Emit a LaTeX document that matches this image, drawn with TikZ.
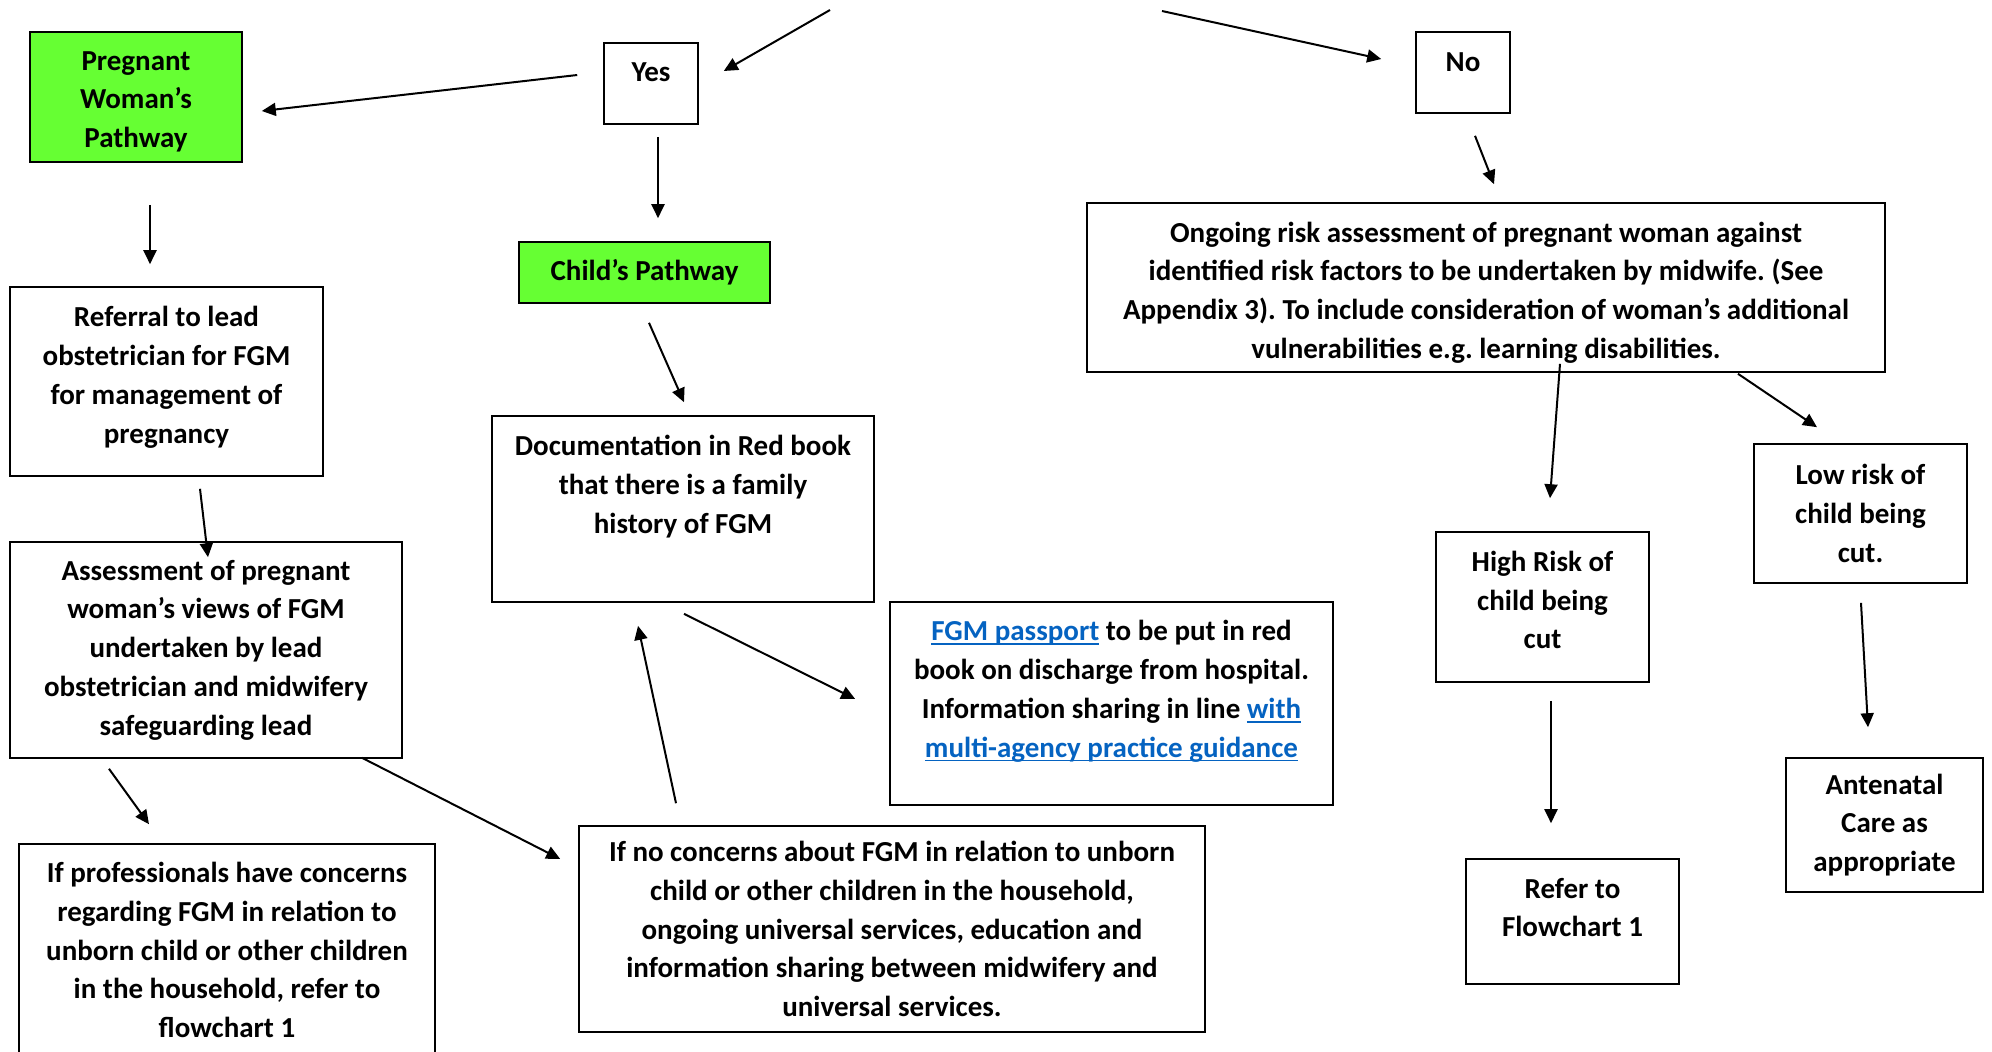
\documentclass[tikz,border=0pt]{standalone}
\usepackage{fontspec}
\setmainfont{Carlito}
\usepackage{tikz}
\usetikzlibrary{shapes,arrows,arrows.meta,calc}
\frenchspacing
\definecolor{pathgreen}{RGB}{102,255,51}
\definecolor{linkblue}{RGB}{5,99,193}
\newcommand{\weblink}[1]{\textcolor{linkblue}{\setbox0\hbox{#1}\rlap{\rule[-2pt]{\wd0}{0.9pt}}\box0}}
\tikzstyle{stepbox} = [draw, line width=0.8pt, align=center, inner sep=0pt, font=\bfseries\fontsize{14.5}{19.4}\selectfont]
\tikzstyle{pathbox} = [stepbox, fill=pathgreen]
\tikzstyle{flow} = [->, >={Triangle[length=7pt,width=6.5pt]}, line width=1pt]

\begin{document}
\begin{tikzpicture}[x=0.5pt, y=-0.5pt]
		\useasboundingbox (0,0) rectangle (1992,1051);

		\node [pathbox, minimum width=106pt, minimum height=65pt] (pregnant) at (136,97) {\rule{0pt}{14.2pt}Pregnant\\Woman’s\\Pathway};
		\node [stepbox, minimum width=47pt, minimum height=40.5pt] (yes) at (651,83.5) {Yes\rule[-11pt]{0pt}{11pt}};
		\node [stepbox, minimum width=47pt, minimum height=40.5pt] (no) at (1463,72.5) {No\rule[-10pt]{0pt}{10pt}};
		\node [pathbox, minimum width=125.5pt, minimum height=30.5pt] (child) at (644.5,272.5) {Child’s Pathway};

		\node [stepbox, minimum width=156.5pt, minimum height=94.5pt] (referral) at (166.5,381.5) {\rule{0pt}{14.1pt}Referral to lead\\obstetrician for FGM\\for management of\\pregnancy\rule[-10.5pt]{0pt}{10.5pt}};
		\node [stepbox, minimum width=196pt, minimum height=108pt] (assess) at (206,650) {Assessment of pregnant\\woman’s views of FGM\\undertaken by lead\\obstetrician and midwifery\\safeguarding lead};
		\node [stepbox, minimum width=208pt, minimum height=106pt] (concerns) at (227,950) {If professionals have concerns\\regarding FGM in relation to\\unborn child or other children\\in the household, refer to\\flowchart 1};

		\node [stepbox, minimum width=191pt, minimum height=93pt] (redbook) at (683,509) {Documentation in Red book\\that there is a family\\history of FGM\rule[-24.5pt]{0pt}{24.5pt}};
		\node [stepbox, minimum width=221.5pt, minimum height=101.5pt] (passport) at (1111.5,703.5) {\weblink{FGM passport} to be put in red\\book on discharge from hospital.\\Information sharing in line \weblink{with}\\\weblink{multi-agency practice guidance}\rule[-14.5pt]{0pt}{14.5pt}};
		\node [stepbox, minimum width=313pt, minimum height=103pt] (noconcern) at (892,929) {If no concerns about FGM in relation to unborn\\child or other children in the household,\\ongoing universal services, education and\\information sharing between midwifery and\\universal services.};

		\node [stepbox, minimum width=399pt, minimum height=84.5pt] (ongoing) at (1486,287.5) {\rule{0pt}{15.3pt}Ongoing risk assessment of pregnant woman against\\identified risk factors to be undertaken by midwife. (See\\Appendix 3). To include consideration of woman’s additional\\vulnerabilities e.g. learning disabilities.};
		\node [stepbox, minimum width=106.5pt, minimum height=75pt] (high) at (1542.5,607) {High Risk of\\child being\\cut\rule[-7pt]{0pt}{7pt}};
		\node [stepbox, minimum width=106.5pt, minimum height=69.5pt] (low) at (1860.5,513.5) {Low risk of\\child being\\cut.};
		\node [stepbox, minimum width=106.5pt, minimum height=62.5pt] (refer) at (1572.5,921.5) {Refer to\\Flowchart 1\rule[-14pt]{0pt}{14pt}};
		\node [stepbox, minimum width=98.5pt, minimum height=67pt] (antenatal) at (1884.5,825) {Antenatal\\Care as\\appropriate};

		\coordinate (askyes) at (830,10);
		\coordinate (askno) at (1162,11);

		\draw [flow] (askyes) -- ($(yes.east)+(25,-12.5)$);
		\draw [flow] (askno) -- ($(no.west)+(-34,-13.5)$);
		\draw [flow] ($(yes.west)+(-26,-8.5)$) -- ($(pregnant.east)+(19,14)$);
		\draw [flow] ($(yes.south)+(7,12)$) -- ($(child.north)+(13.5,-23)$);
		\draw [flow] ($(pregnant.south)+(14,42)$) -- ($(referral.north)+(-16.5,-22)$);
		\draw [flow] ($(child.south)+(4.5,19)$) -- ($(redbook.north)+(1,-13)$);
		\draw [flow] ($(referral.south)+(33.5,12)$) -- ($(assess.north)+(2,16)$);
		\draw [flow] ($(assess.south)+(-97,10)$) -- ($(concerns.north)+(-78,-19)$);
		\draw [flow] ($(assess.south)+(156,-1)$) -- ($(noconcern.west)+(-18,-70)$);
		\draw [flow] ($(noconcern.north)+(-216,-22)$) -- ($(redbook.south)+(-45,23)$);
		\draw [flow] ($(redbook.south)+(1,11)$) -- ($(passport.west)+(-34,-4.5)$);

		\draw [flow] ($(no.south)+(12,22)$) -- ($(ongoing.north)+(8,-18)$);
		\draw [flow] ($(ongoing.south)+(74,-9)$) -- ($(high.north)+(7.5,-33)$);
		\draw [flow] ($(ongoing.south)+(252,1)$) -- ($(low.north)+(-43.5,-16)$);
		\draw [flow] ($(high.south)+(8.5,18)$) -- ($(refer.north)+(-21.5,-35)$);
		\draw [flow] ($(low.south)+(0.5,19)$) -- ($(antenatal.north)+(-16.5,-30)$);

\end{tikzpicture}
\end{document}
